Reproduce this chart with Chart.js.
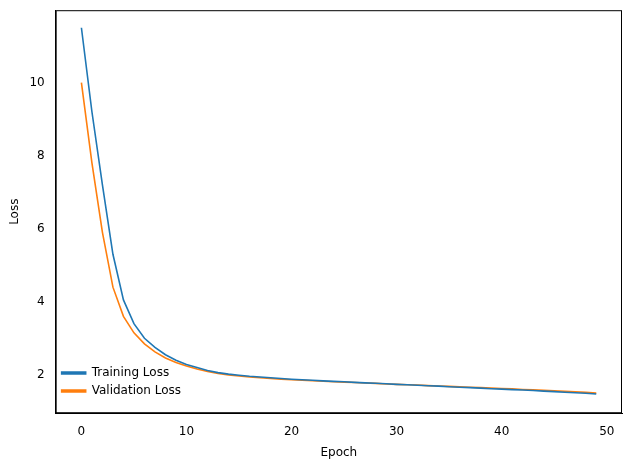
<!DOCTYPE html><html><head><script src="https://cdn.jsdelivr.net/npm/chart.js@4"></script>
<style>body{margin:0;background:#fff}</style></head><body><canvas id="c" width="630" height="470"></canvas>
<script>
const epochs=[...Array(50).keys()];
const trainLoss=[11.5,9.2,7.2,5.3,4.05,3.4,3.0,2.75,2.55,2.4,2.28,2.2,2.12,2.06,2.02,1.99,1.96,1.94,1.92,1.9,1.88,1.865,1.85,1.835,1.82,1.81,1.795,1.78,1.77,1.755,1.74,1.73,1.715,1.7,1.69,1.675,1.66,1.65,1.635,1.62,1.61,1.595,1.585,1.57,1.555,1.54,1.525,1.51,1.495,1.475];
const valLoss=[10.0,7.8,5.9,4.4,3.6,3.15,2.85,2.63,2.46,2.34,2.24,2.16,2.09,2.04,2.0,1.97,1.94,1.92,1.9,1.88,1.865,1.85,1.84,1.825,1.81,1.8,1.79,1.775,1.765,1.75,1.74,1.73,1.72,1.705,1.695,1.685,1.67,1.66,1.65,1.64,1.625,1.615,1.6,1.59,1.575,1.56,1.55,1.535,1.52,1.5];
const xTicks=[0,10,20,30,40,50], yTicks=[2,4,6,8,10];
const f={family:'DejaVu Sans',size:12};
new Chart(document.getElementById('c'),{type:'line',
data:{datasets:[
{label:'Training Loss',data:epochs.map((e,i)=>({x:e,y:trainLoss[i]})),borderColor:'#1f77b4',backgroundColor:'#1f77b4',borderWidth:1.6,pointRadius:0,tension:0},
{label:'Validation Loss',data:epochs.map((e,i)=>({x:e,y:valLoss[i]})),borderColor:'#ff7f0e',backgroundColor:'#ff7f0e',borderWidth:1.6,pointRadius:0,tension:0}]},
options:{responsive:false,animation:false,devicePixelRatio:1,
layout:{padding:{left:4,right:8,top:10,bottom:6}},
plugins:{legend:{position:'chartArea',align:'end',labels:{font:f,color:'#000',boxWidth:24,boxHeight:2,padding:6}},tooltip:{enabled:false}},
scales:{
x:{type:'linear',min:-2.45,max:51.45,afterBuildTicks:a=>{a.ticks=xTicks.map(v=>({value:v}))},grid:{display:false},border:{color:'#000'},ticks:{font:f,color:'#000'},title:{display:true,text:'Epoch',font:f,color:'#000'}},
y:{min:0.95,max:11.98,afterBuildTicks:a=>{a.ticks=yTicks.map(v=>({value:v}))},grid:{display:false},border:{color:'#000'},ticks:{font:f,color:'#000'},title:{display:true,text:'Loss',font:f,color:'#000'}}}},
plugins:[{id:'frame',afterDraw(c){const a=c.chartArea,x=c.ctx;x.save();x.strokeStyle='#000';x.lineWidth=1;x.strokeRect(a.left+.5,a.top+.5,a.width-1,a.height-1);x.restore();}}]
});
</script></body></html>
